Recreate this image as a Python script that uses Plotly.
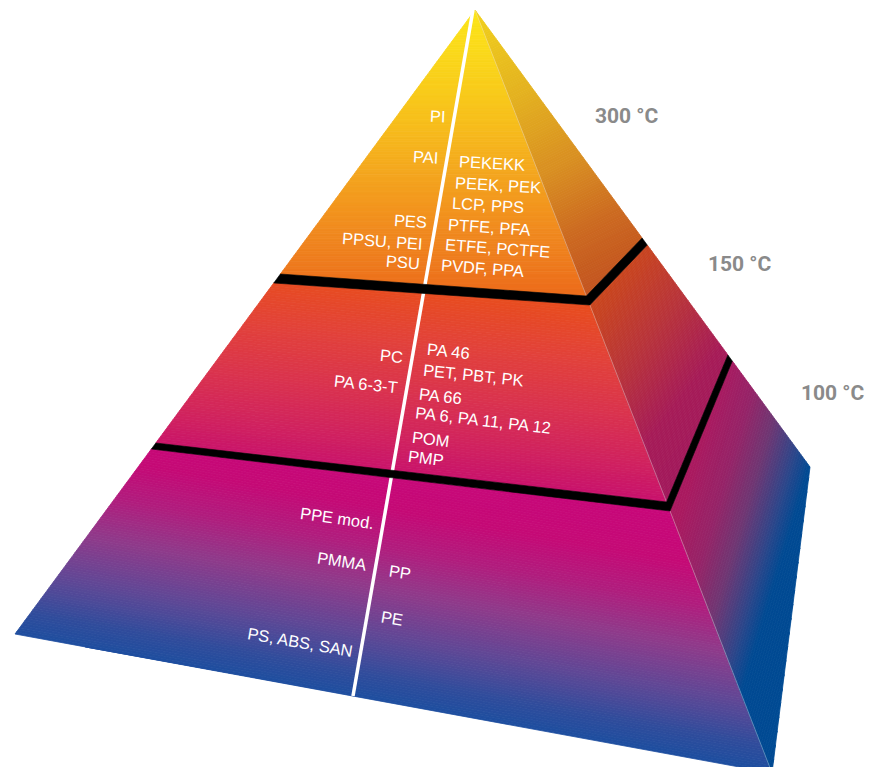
import plotly.graph_objects as go

W, H = 880, 767

# ---------------- data ----------------
temperatures = ["300 °C", "150 °C", "100 °C"]
top_left = ["PI", "PAI", "PES", "PPSU, PEI", "PSU"]
top_right = ["PEKEKK", "PEEK, PEK", "LCP, PPS", "PTFE, PFA", "ETFE, PCTFE", "PVDF, PPA"]
mid_left = ["PC", "PA 6-3-T"]
mid_right = ["PA 46", "PET, PBT, PK", "PA 66", "PA 6, PA 11, PA 12", "POM", "PMP"]
bot_left = ["PPE mod.", "PMMA", "PS, ABS, SAN"]
bot_right = ["PP", "PE"]

# ---------------- layout (pixel rows of the labels) ----------------
top_left_y = [116, 157, 221, 241, 262]
top_right_y = [163, 185, 205, 227, 248, 268]
mid_left_y = [356, 384]
mid_right_y = [351, 375, 396, 420, 439, 458]
bot_left_y = [518, 561, 642]
bot_right_y = [572, 618]
temp_xy = [(627, 116), (740, 264), (833, 393)]

# ---------------- geometry of the drawing ----------------
APEX = (475, 10)
LEFT_BASE = (15, 634)
FRONT_BASE = (772, 773)
BACK_BASE = (810, 467)
# y of each tier boundary on (left edge, front-right edge, back edge)
CUT_TOP_BOTTOM = (274, 296, 238)
CUT_MID_TOP = (283, 305, 245)
CUT_MID_BOTTOM = (443, 502, 355)
CUT_BOT_TOP = (449, 511, 361)
SPLIT_TOP = (473, 10)
SPLIT_BASE_FRAC = 0.4465


def on_edge(base, y):
    t = (y - APEX[1]) / (base[1] - APEX[1])
    return (APEX[0] + t * (base[0] - APEX[0]), y)


def L(y):
    return on_edge(LEFT_BASE, y)


def F(y):
    return on_edge(FRONT_BASE, y)


def B(y):
    return on_edge(BACK_BASE, y)


split_bot = (LEFT_BASE[0] + SPLIT_BASE_FRAC * (FRONT_BASE[0] - LEFT_BASE[0]),
             LEFT_BASE[1] + SPLIT_BASE_FRAC * (FRONT_BASE[1] - LEFT_BASE[1]))


def split_x(y):
    return SPLIT_TOP[0] + (y - SPLIT_TOP[1]) * (split_bot[0] - SPLIT_TOP[0]) / (split_bot[1] - SPLIT_TOP[1])


faces = {
    "top_front": [APEX, L(CUT_TOP_BOTTOM[0]), F(CUT_TOP_BOTTOM[1])],
    "top_right": [APEX, F(CUT_TOP_BOTTOM[1]), B(CUT_TOP_BOTTOM[2])],
    "mid_front": [L(CUT_MID_TOP[0]), F(CUT_MID_TOP[1]), F(CUT_MID_BOTTOM[1]), L(CUT_MID_BOTTOM[0])],
    "mid_right": [F(CUT_MID_TOP[1]), B(CUT_MID_TOP[2]), B(CUT_MID_BOTTOM[2]), F(CUT_MID_BOTTOM[1])],
    "bot_front": [L(CUT_BOT_TOP[0]), F(CUT_BOT_TOP[1]), FRONT_BASE, LEFT_BASE],
    "bot_right": [F(CUT_BOT_TOP[1]), B(CUT_BOT_TOP[2]), BACK_BASE, FRONT_BASE],
}

# gradient direction and colour stops (projection value, colour)
gradients = {
    "top_front": ((0, 1), [(10, "#FCE619"), (60, "#FAD61A"), (120, "#F7C01C"),
                           (180, "#F4A31E"), (235, "#F0881E"), (296, "#EC6B1B")]),
    "top_right": ((0.5, 1), [(240, "#F2D31B"), (350, "#E4B31F"), (450, "#D88D21"),
                             (520, "#CC6A20"), (580, "#C4561F")]),
    "mid_front": ((-0.1, 1), [(245, "#E84D1D"), (300, "#E2423A"), (355, "#D9324F"),
                              (400, "#D0225F"), (437, "#C8116D")]),
    "mid_right": ((1, 0.8), [(840, "#C9451E"), (920, "#B8333A"), (1000, "#A61B57"),
                             (1070, "#A1185C")]),
    "bot_front": ((-0.18, 1), [(390, "#C8087A"), (440, "#C50A76"), (480, "#B01E7E"),
                               (520, "#903A8A"), (570, "#5E4896"), (610, "#2F4C9C"),
                               (640, "#194FA0")]),
    "bot_right": ((1, 0.3), [(835, "#AA1A60"), (870, "#952468"), (900, "#6E3773"),
                             (930, "#2E468A"), (950, "#004A93")]),
}


def hex2rgb(h):
    h = h.lstrip("#")
    return tuple(int(h[i:i + 2], 16) for i in (0, 2, 4))


def color_at(stops, p):
    if p <= stops[0][0]:
        return hex2rgb(stops[0][1])
    if p >= stops[-1][0]:
        return hex2rgb(stops[-1][1])
    for (p0, c0), (p1, c1) in zip(stops[:-1], stops[1:]):
        if p0 <= p <= p1:
            t = (p - p0) / (p1 - p0)
            a, b = hex2rgb(c0), hex2rgb(c1)
            return tuple(a[i] + t * (b[i] - a[i]) for i in range(3))
    return hex2rgb(stops[-1][1])


def clip_half(poly, f):
    out = []
    n = len(poly)
    for i in range(n):
        P, Q = poly[i], poly[(i + 1) % n]
        fp, fq = f(P), f(Q)
        if fp >= 0:
            out.append(P)
        if (fp >= 0) != (fq >= 0):
            t = fp / (fp - fq)
            out.append((P[0] + t * (Q[0] - P[0]), P[1] + t * (Q[1] - P[1])))
    return out


def path_of(poly):
    return "M " + " L ".join(f"{x:.2f},{y:.2f}" for x, y in poly) + " Z"


shapes = []


def add_gradient_face(poly, d, stops, step=2.5):
    proj = lambda p: d[0] * p[0] + d[1] * p[1]
    vals = [proj(p) for p in poly]
    lo, hi = min(vals), max(vals)
    n = max(1, int((hi - lo) / step) + 1)
    for i in range(n):
        a = lo + (hi - lo) * i / n
        b = lo + (hi - lo) * (i + 1) / n
        piece = clip_half(poly, lambda p, a=a: proj(p) - a)
        if len(piece) < 3:
            continue
        piece = clip_half(piece, lambda p, b=b: b - proj(p))
        if len(piece) < 3:
            continue
        r, g, bb = color_at(stops, (a + b) / 2)
        col = f"rgb({r:.0f},{g:.0f},{bb:.0f})"
        shapes.append(dict(type="path", path=path_of(piece), xref="x", yref="y",
                           fillcolor=col, line=dict(color=col, width=0.8), layer="above"))


for name, poly in faces.items():
    d, stops = gradients[name]
    add_gradient_face(poly, d, stops)

# white split line on the front faces
shapes.append(dict(type="line", x0=SPLIT_TOP[0], y0=SPLIT_TOP[1], x1=split_bot[0], y1=split_bot[1],
                   xref="x", yref="y", line=dict(color="white", width=3.5)))

# faint highlight on the front/right ridge of each tier
for y0, y1 in [(APEX[1], CUT_TOP_BOTTOM[1]), (CUT_MID_TOP[1], CUT_MID_BOTTOM[1]), (CUT_BOT_TOP[1], FRONT_BASE[1])]:
    p0, p1 = F(y0), F(y1)
    shapes.append(dict(type="line", x0=p0[0], y0=p0[1], x1=p1[0], y1=p1[1], xref="x", yref="y",
                       line=dict(color="rgba(255,255,255,0.35)", width=1)))

# black bands between tiers
for upper, lower in [(CUT_TOP_BOTTOM, CUT_MID_TOP), (CUT_MID_BOTTOM, CUT_BOT_TOP)]:
    band = [L(upper[0]), F(upper[1]), B(upper[2]), B(lower[2]), F(lower[1]), L(lower[0])]
    shapes.append(dict(type="path", path=path_of(band), xref="x", yref="y",
                       fillcolor="black", line=dict(color="black", width=0.6)))

annotations = []
LABEL_FONT = dict(family="Liberation Sans, Arial, sans-serif", size=16.5, color="white")


def angle_for(y):
    return 3 + (y - 163) * 0.0142


def add_labels(labels, ys, side):
    for lab, y in zip(labels, ys):
        if side == "left":
            x, anchor = split_x(y) - 6.5, "right"
        else:
            x, anchor = split_x(y) + 10.5, "left"
        annotations.append(dict(x=x, y=y, xref="x", yref="y", text=lab, showarrow=False,
                                xanchor=anchor, yanchor="middle", textangle=angle_for(y),
                                font=LABEL_FONT))


add_labels(top_left, top_left_y, "left")
add_labels(top_right, top_right_y, "right")
add_labels(mid_left, mid_left_y, "left")
add_labels(mid_right, mid_right_y, "right")
add_labels(bot_left, bot_left_y, "left")
add_labels(bot_right, bot_right_y, "right")

for t, (x, y) in zip(temperatures, temp_xy):
    annotations.append(dict(x=x, y=y, xref="x", yref="y", text=t, showarrow=False,
                            xanchor="center", yanchor="middle",
                            font=dict(family="Roboto, sans-serif", size=21, color="#8a8a8a", weight="bold")))

fig = go.Figure()
fig.update_layout(
    width=W, height=H,
    margin=dict(l=0, r=0, t=0, b=0),
    paper_bgcolor="white", plot_bgcolor="white",
    xaxis=dict(range=[0, W], visible=False, fixedrange=True),
    yaxis=dict(range=[H, 0], visible=False, fixedrange=True),
    shapes=shapes,
    annotations=annotations,
    showlegend=False,
)
fig.write_html("out.html")
